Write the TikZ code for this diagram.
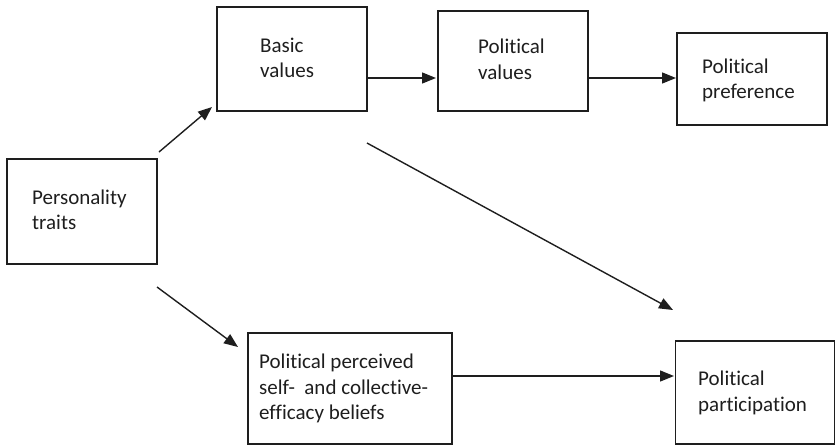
\documentclass[tikz,border=0pt]{standalone}
\usepackage{fontspec}
\setmainfont{Carlito}[Ligatures=NoCommon]
\usetikzlibrary{arrows.meta}
\definecolor{ink}{HTML}{1E1E1E}
\tikzset{
  box/.style={draw=ink, line width=1.4pt, rectangle, inner sep=0pt},
  lbl/.style={anchor=base west, inner sep=0pt, text=ink, font=\fontsize{21pt}{25pt}\selectfont},
  conn/.style={draw=ink, line width=1.4pt, -{Triangle[length=14pt,width=11pt]}}
}
\begin{document}
\begin{tikzpicture}[x=1pt,y=-1pt]
\useasboundingbox (0,0) rectangle (836,445);
% boxes
\node[box, minimum width=150pt, minimum height=105pt] (pt) at (82,211.5) {};
\node[box, minimum width=150pt, minimum height=104pt] (bv) at (292,59) {};
\node[box, minimum width=150pt, minimum height=100pt] (pv) at (513,61) {};
\node[box, minimum width=150pt, minimum height=92pt] (pp) at (752,79) {};
\node[box, minimum width=204pt, minimum height=111pt] (eff) at (350,388.5) {};
\node[box, minimum width=159pt, minimum height=103pt] (part) at (755,392.5) {};
% texts
\node[lbl] (t1) at (260,52) {Basic};
\node[lbl] (t2) at (260,77) {values};
\node[lbl] (t3) at (478,53) {Political};
\node[lbl] (t4) at (478,79) {values};
\node[lbl] (t5) at (702,73) {Political};
\node[lbl] (t6) at (702,98) {preference};
\node[lbl] (t7) at (32,204) {Personality};
\node[lbl] (t8) at (32,229) {traits};
\node[lbl] (t9) at (259,368) {Political perceived};
\node[lbl] (t10) at (259,394) {self-\ \ and collective-};
\node[lbl] (t11) at (259,419) {efficacy beliefs};
\node[lbl] (t12) at (698,385) {Political};
\node[lbl] (t13) at (698,411) {participation};
% connector end points
\coordinate (a1) at (159,152);
\coordinate (a2) at (212,107);
\coordinate (b1) at (367,78);
\coordinate (b2) at (436,78);
\coordinate (c1) at (588,78);
\coordinate (c2) at (676,78);
\coordinate (d1) at (367,143);
\coordinate (d2) at (673,310);
\coordinate (e1) at (157,287);
\coordinate (e2) at (238,347);
\coordinate (f1) at (452,376);
\coordinate (f2) at (674,376);
% connectors
\draw[conn] (a1) -- (a2);
\draw[conn] (b1) -- (b2);
\draw[conn] (c1) -- (c2);
\draw[conn] (d1) -- (d2);
\draw[conn] (e1) -- (e2);
\draw[conn] (f1) -- (f2);
\end{tikzpicture}
\end{document}
